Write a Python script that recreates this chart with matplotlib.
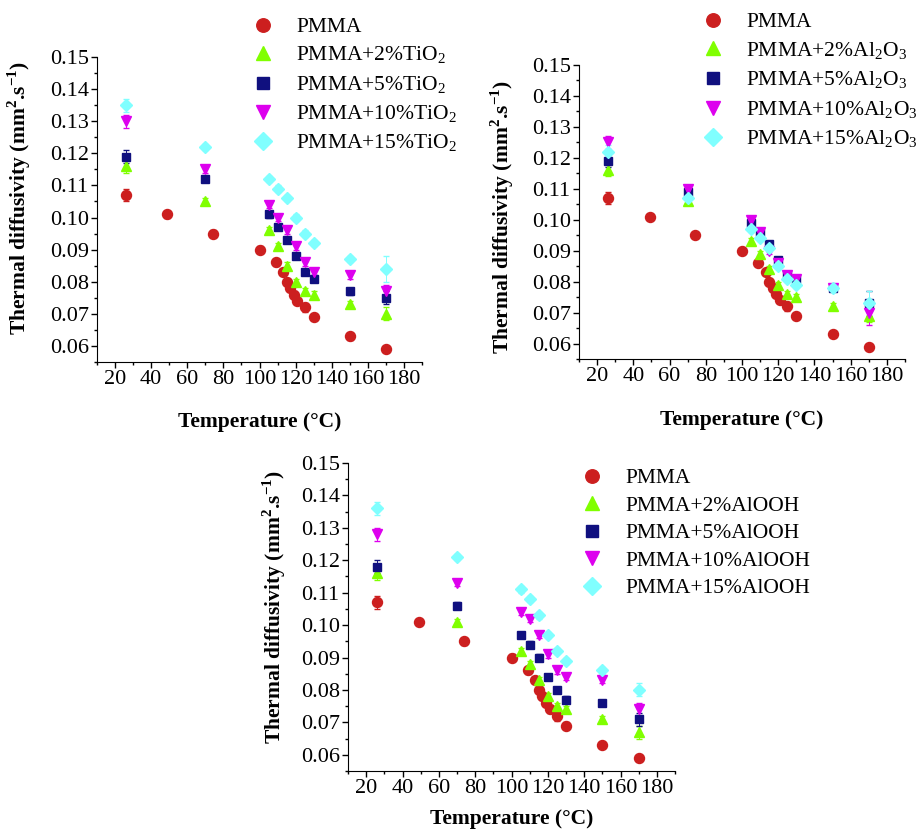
import numpy as np
import matplotlib.pyplot as plt
from matplotlib.ticker import MultipleLocator, FormatStrFormatter

plt.rcParams['font.family'] = ['Liberation Serif', 'DejaVu Serif']
plt.rcParams['mathtext.fontset'] = 'custom'
plt.rcParams['mathtext.rm'] = 'Liberation Serif'
plt.rcParams['mathtext.bf'] = 'Liberation Serif:bold'

# temperatures (C)
t_pmma = [26, 49, 74, 100, 109, 113, 115, 117, 119, 121, 125, 130, 150, 170]
t_comp = [26, 70, 105, 110, 115, 120, 125, 130, 150, 170]

# thermal diffusivity (mm2/s)
pmma = [0.107, 0.101, 0.095, 0.090, 0.086, 0.083, 0.080, 0.078, 0.076, 0.074, 0.072, 0.069, 0.063, 0.059]
pmma_err = [0.002, 0.001, 0.001, 0.001, 0.001, 0.001, 0.001, 0.001, 0.001, 0.001, 0.0015, 0.001, 0.001, 0.001]

tio2_2 = [0.116, 0.105, 0.096, 0.091, 0.085, 0.080, 0.077, 0.076, 0.073, 0.070]
tio2_5 = [0.119, 0.112, 0.101, 0.097, 0.093, 0.088, 0.083, 0.081, 0.077, 0.075]
tio2_10 = [0.130, 0.115, 0.104, 0.100, 0.096, 0.091, 0.086, 0.083, 0.082, 0.077]
tio2_15 = [0.135, 0.122, 0.112, 0.109, 0.106, 0.100, 0.095, 0.092, 0.087, 0.084]

al2o3_2 = [0.116, 0.106, 0.093, 0.089, 0.084, 0.079, 0.076, 0.075, 0.072, 0.069]
al2o3_5 = [0.119, 0.109, 0.099, 0.096, 0.092, 0.087, 0.082, 0.081, 0.078, 0.073]
al2o3_10 = [0.125, 0.110, 0.100, 0.096, 0.090, 0.086, 0.082, 0.081, 0.078, 0.070]
al2o3_15 = [0.122, 0.107, 0.097, 0.094, 0.091, 0.085, 0.081, 0.079, 0.078, 0.073]

alooh_2 = [0.116, 0.101, 0.092, 0.088, 0.083, 0.078, 0.075, 0.074, 0.071, 0.067]
alooh_5 = [0.118, 0.106, 0.097, 0.094, 0.090, 0.084, 0.080, 0.077, 0.076, 0.071]
alooh_10 = [0.128, 0.113, 0.104, 0.102, 0.097, 0.091, 0.086, 0.084, 0.083, 0.074]
alooh_15 = [0.136, 0.121, 0.111, 0.108, 0.103, 0.097, 0.092, 0.089, 0.086, 0.080]

comp_err = [0.002, 0.001, 0.001, 0.001, 0.001, 0.001, 0.001, 0.001, 0.001, 0.002]
err_170 = [0.002, 0.001, 0.001, 0.001, 0.001, 0.001, 0.001, 0.001, 0.001, 0.004]

fillers = ['TiO$_\\mathregular{2}$', 'Al$_\\mathregular{2}$O$_\\mathregular{3}$', 'AlOOH']
loadings = ['2%', '5%', '10%', '15%']

colors = ['#cc1f1f', '#80ff00', '#10107f', '#dd00ee', '#80ffff']
markers = ['o', '^', 's', 'v', 'D']
msizes = [7.2, 7.5, 6.3, 7.5, 6.5]

W, H = 919, 830
fig = plt.figure(figsize=(W / 100, H / 100), dpi=100)


def make_axes(left, top, right, bottom):
    return fig.add_axes([left / W, 1 - bottom / H, (right - left) / W, (bottom - top) / H])


def draw_panel(ax, comp, errs, filler, leg_anchor, leg_space, xpad, ylab_pos):
    ax.errorbar(t_pmma, pmma, yerr=pmma_err, fmt=markers[0], ms=msizes[0],
                color=colors[0], ecolor=colors[0], elinewidth=0.7, capsize=2,
                label='PMMA')
    for i, (vals, err) in enumerate(zip(comp, errs)):
        ax.errorbar(t_comp, vals, yerr=err, fmt=markers[i + 1], ms=msizes[i + 1],
                    color=colors[i + 1], ecolor=colors[i + 1], elinewidth=0.7,
                    capsize=2, label='PMMA+' + loadings[i] + filler)
    ax.set_xlim(10, 190)
    ax.set_ylim(0.055, 0.15)
    ax.xaxis.set_major_locator(MultipleLocator(20))
    ax.xaxis.set_minor_locator(MultipleLocator(10))
    ax.yaxis.set_major_locator(MultipleLocator(0.01))
    ax.yaxis.set_minor_locator(MultipleLocator(0.005))
    ax.yaxis.set_major_formatter(FormatStrFormatter('%.2f'))
    ax.set_xticks(np.arange(20, 181, 20))
    ax.spines['top'].set_visible(False)
    ax.spines['right'].set_visible(False)
    ax.tick_params(which='major', direction='out', length=4, width=1, labelsize=16, pad=2)
    ax.tick_params(which='minor', direction='out', length=2.5, width=1)
    ax.set_xlabel('Temperature (°C)', fontsize=15.5, fontweight='bold', labelpad=xpad)
    ax.set_ylabel('Thermal diffusivity (mm$^\\mathbf{2}$.s$^\\mathbf{-1}$)',
                  fontsize=15.5, fontweight='bold')
    ax.yaxis.set_label_coords(*ylab_pos)
    handles, labels = ax.get_legend_handles_labels()
    handles = [h[0] for h in handles]
    ax.legend(handles, labels, loc='upper left',
              bbox_to_anchor=(leg_anchor[0] / W, 1 - leg_anchor[1] / H),
              bbox_transform=fig.transFigure, frameon=False, fontsize=15.5,
              markerscale=1.35, handlelength=1.0, handletextpad=1.05,
              labelspacing=leg_space, borderpad=0, borderaxespad=0)


ax1 = make_axes(97, 57, 422, 362)
draw_panel(ax1, [tio2_2, tio2_5, tio2_10, tio2_15],
           [comp_err, comp_err, comp_err, err_170], fillers[0],
           (252, 17), 0.36, 16, (-0.197, 0.538))

ax2 = make_axes(579, 65, 905, 359)
draw_panel(ax2, [al2o3_2, al2o3_5, al2o3_10, al2o3_15],
           [comp_err, err_170, err_170, err_170], fillers[1],
           (702, 12), 0.37, 17, (-0.193, 0.483))

ax3 = make_axes(348, 463, 675, 771)
draw_panel(ax3, [alooh_2, alooh_5, alooh_10, alooh_15],
           [comp_err, comp_err, comp_err, comp_err], fillers[2],
           (581, 468), 0.35, 8, (-0.183, 0.532))

fig.savefig('out.png', dpi=100)
